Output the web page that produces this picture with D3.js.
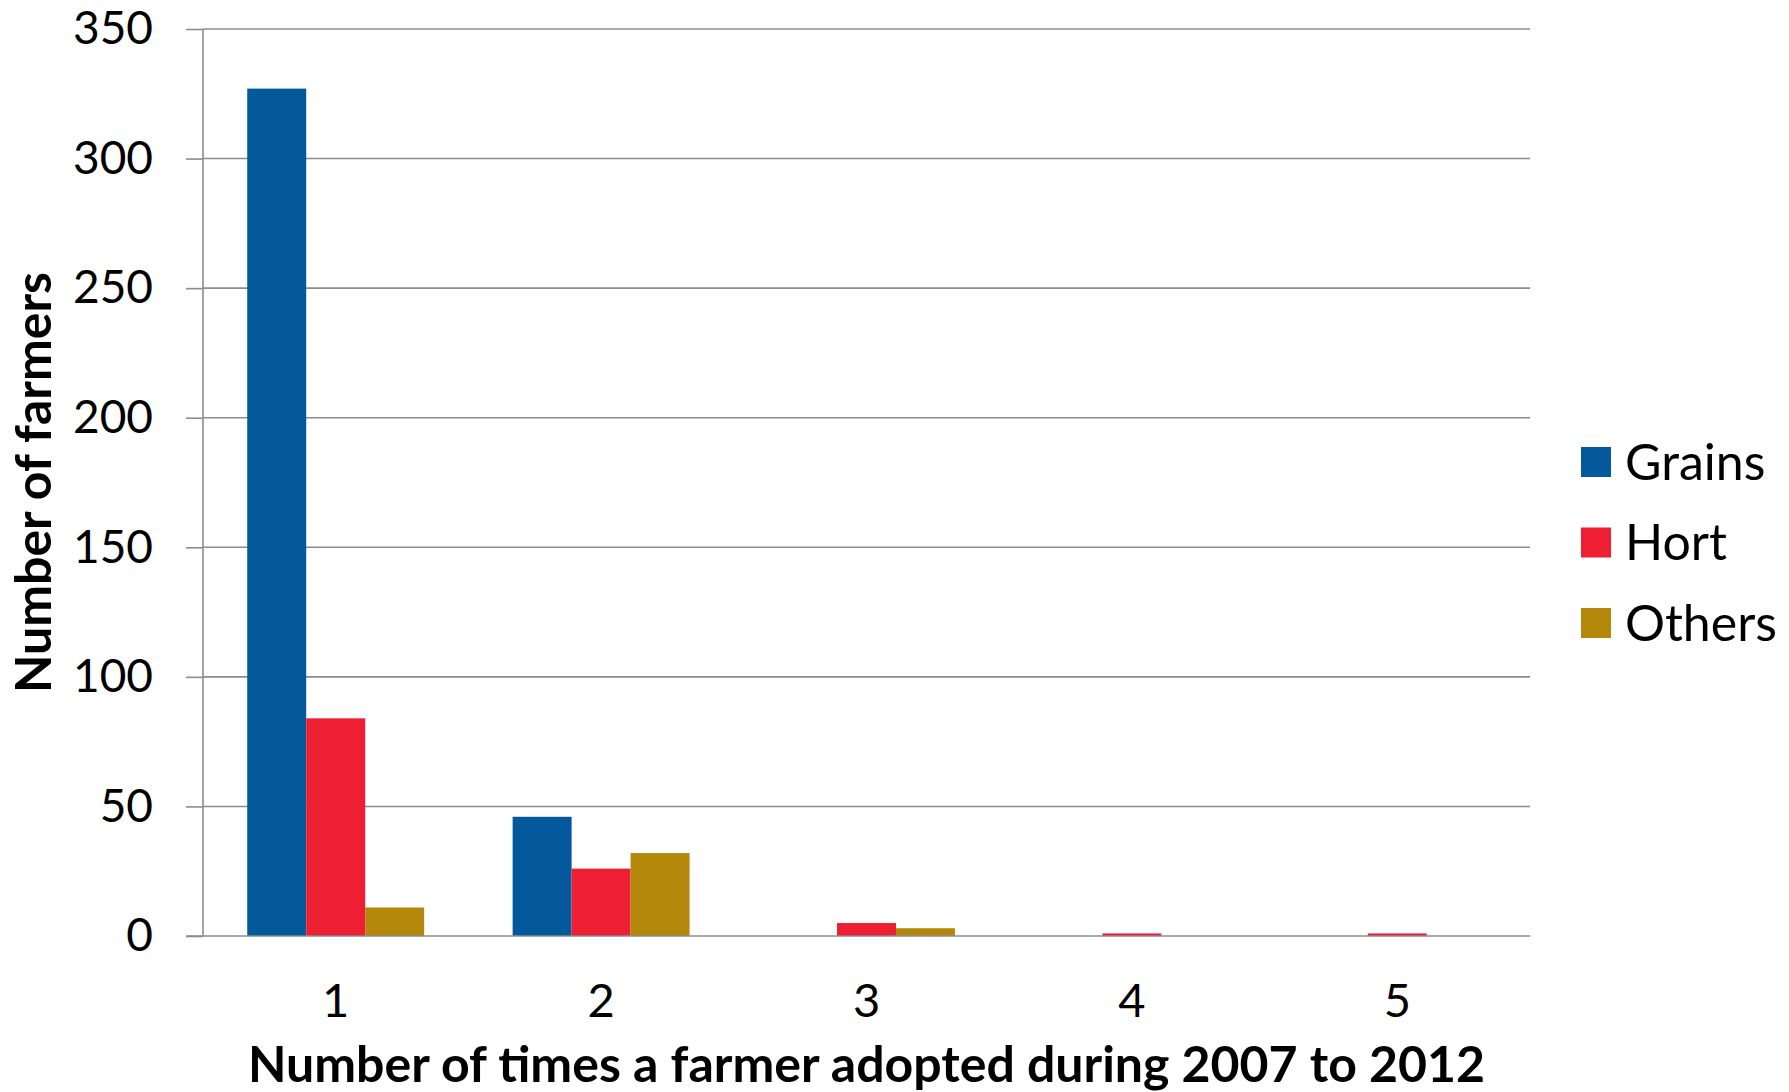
<!DOCTYPE html>
<html>
<head>
<meta charset="utf-8">
<script src="https://cdn.jsdelivr.net/npm/d3@7"></script>
<style>
  html, body { margin: 0; padding: 0; background: #fff; }
  svg { display: block; font-family: Lato, "Open Sans", sans-serif; }
</style>
</head>
<body>
<svg id="chart" width="1789" height="1092"></svg>
<script>
// Adoption counts per farmer, split by crop type
const categories = ["1", "2", "3", "4", "5"];
const seriesNames = ["Grains", "Hort", "Others"];
const grains = [327, 46, 0, 0, 0];
const hort = [84, 26, 5, 1, 1];
const others = [11, 32, 3, 0, 0];
const yTicks = [0, 50, 100, 150, 200, 250, 300, 350];
const colors = ["#03599c", "#ee1f33", "#b3880a"];
const xTitle = "Number of times a farmer adopted during 2007 to 2012";
const yTitle = "Number of farmers";

const series = [grains, hort, others];

const svg = d3.select("#chart");
const margin = { left: 203, right: 259, top: 29, bottom: 156 };
const W = 1789, H = 1092;
const plotW = W - margin.left - margin.right;
const plotH = H - margin.top - margin.bottom;

// gap between groups equals half the group width on each side
const x = d3.scaleBand().domain(categories).range([margin.left, margin.left + plotW])
  .paddingInner(1 / 3).paddingOuter(1 / 6);
// inner bars within a category
const xs = d3.scaleBand().domain(seriesNames).range([0, x.bandwidth()]);
const y = d3.scaleLinear().domain([0, 350]).range([margin.top + plotH, margin.top]);

// Horizontal gridlines
svg.append("g").selectAll("line").data(yTicks.filter(d => d > 0)).join("line")
  .attr("x1", margin.left).attr("x2", margin.left + plotW)
  .attr("y1", d => y(d)).attr("y2", d => y(d))
  .attr("stroke", "#8c8c8c").attr("stroke-width", 1.6);

// Bars
const groups = svg.append("g").selectAll("g").data(categories).join("g")
  .attr("transform", d => `translate(${x(d)},0)`);
groups.selectAll("rect").data((c, i) => seriesNames.map((s, j) => ({ s, j, v: series[j][i] })))
  .join("rect")
  .attr("x", d => xs(d.s)).attr("width", xs.bandwidth())
  .attr("y", d => y(d.v)).attr("height", d => y(0) - y(d.v))
  .attr("fill", d => colors[d.j]);

// Y axis
const yAxis = d3.axisLeft(y).tickValues(yTicks).tickSize(17).tickPadding(33);
const gy = svg.append("g").attr("transform", `translate(${margin.left},0)`).call(yAxis);
gy.select(".domain").attr("stroke", "#8c8c8c").attr("stroke-width", 1.6).attr("d", `M0,${y(350)}V${y(0)}`);
gy.selectAll(".tick line").attr("stroke", "#8c8c8c").attr("stroke-width", 1.6);
gy.selectAll(".tick text").attr("font-size", 46).attr("fill", "#000").attr("font-family", "Lato");

// X axis baseline and labels
const xAxis = d3.axisBottom(x).tickSize(0).tickPadding(48);
const gx = svg.append("g").attr("transform", `translate(0,${y(0)})`).call(xAxis);
gx.select(".domain").attr("stroke", "#8c8c8c").attr("stroke-width", 1.6)
  .attr("d", `M${margin.left - 17},0H${margin.left + plotW}`);
gx.selectAll(".tick text").attr("font-size", 47).attr("fill", "#000").attr("font-family", "Lato");

// Axis titles
svg.append("text").attr("x", margin.left + plotW / 2).attr("y", 1082)
  .attr("text-anchor", "middle").attr("font-size", 50).attr("font-weight", "bold")
  .text(xTitle);
svg.append("text").attr("transform", `translate(51,${margin.top + plotH / 2}) rotate(-90)`)
  .attr("text-anchor", "middle").attr("font-size", 50).attr("font-weight", "bold")
  .text(yTitle);

// Legend
const legend = svg.append("g").attr("transform", "translate(1581,447)");
const items = legend.selectAll("g").data(seriesNames).join("g")
  .attr("transform", (d, i) => `translate(0,${i * 80.5})`);
items.append("rect").attr("width", 30).attr("height", 30).attr("fill", (d, i) => colors[i]);
items.append("text").attr("x", 44).attr("y", 15).attr("dy", "0.35em")
  .attr("font-size", 50).text(d => d);
</script>
</body>
</html>
